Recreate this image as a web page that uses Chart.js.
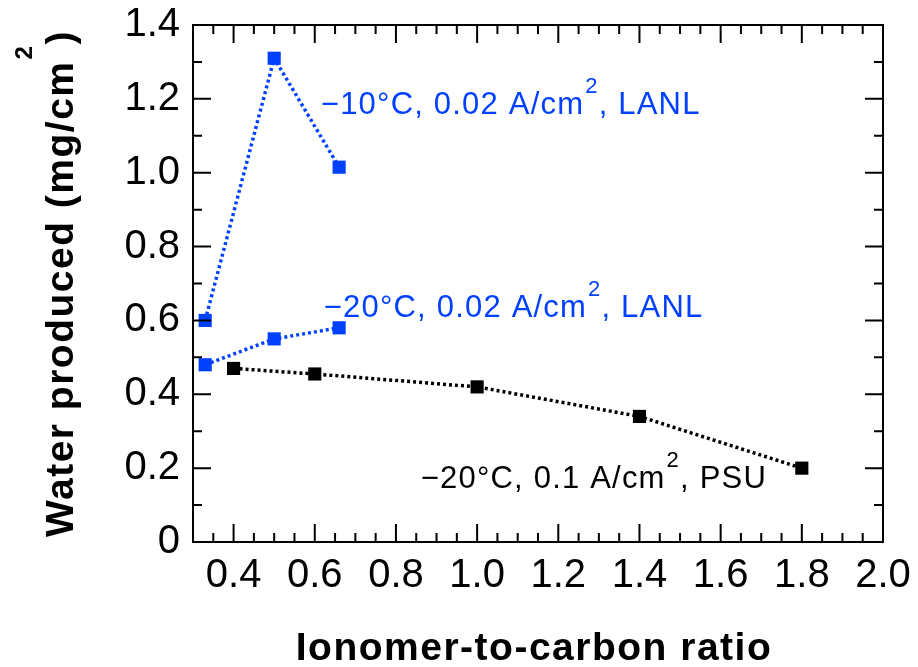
<!DOCTYPE html>
<html><head><meta charset="utf-8">
<script src="https://cdn.jsdelivr.net/npm/chart.js@4.4.0/dist/chart.umd.min.js"></script>
<style>html,body{margin:0;padding:0;background:#fff;} #wrap{width:918px;height:667px;position:relative;}</style>
</head><body><div id="wrap"><canvas id="c" width="918" height="667"></canvas></div>
<script>
// ---- data ----
const ratioLANL10 = [0.33, 0.50, 0.66];
const waterLANL10 = [0.60, 1.31, 1.015];
const ratioLANL20 = [0.33, 0.50, 0.66];
const waterLANL20 = [0.48, 0.55, 0.58];
const ratioPSU = [0.40, 0.60, 1.00, 1.40, 1.80];
const waterPSU = [0.47, 0.455, 0.42, 0.34, 0.20];

const xTickLabels = [0.4, 0.6, 0.8, 1.0, 1.2, 1.4, 1.6, 1.8, 2.0];
const xMinorTicks = [0.35,0.45,0.5,0.55,0.65,0.7,0.75,0.85,0.9,0.95,1.05,1.1,1.15,1.25,1.3,1.35,1.45,1.5,1.55,1.65,1.7,1.75,1.85,1.9,1.95];
const yTickLabels = [0, 0.2, 0.4, 0.6, 0.8, 1.0, 1.2, 1.4];
const yMinorTicks = [0.1, 0.3, 0.5, 0.7, 0.9, 1.1, 1.3];

const labelLANL10 = ['\u221210\u00b0C, 0.02 A/cm', '2', ', LANL'];
const labelLANL20 = ['\u221220\u00b0C, 0.02 A/cm', '2', ', LANL'];
const labelPSU = ['\u221220\u00b0C, 0.1 A/cm', '2', ', PSU'];
const xTitle = 'Ionomer-to-carbon ratio';
const yTitle = ['Water produced (mg/cm', '2', ')'];

const BLUE = '#0040ff';
const FONT = '"Liberation Sans", Arial, Helvetica, sans-serif';

const annotations = [
  {x: 0.615, y: 1.159, parts: labelLANL10, color: BLUE},
  {x: 0.622, y: 0.609, parts: labelLANL20, color: BLUE},
  {x: 0.861, y: 0.146, parts: labelPSU, color: '#000'}
];

function pts(xs, ys) { return xs.map((x, i) => ({x: x, y: ys[i]})); }

function drawSuperText(ctx, parts, x, y, size, supSize, rise, weight, spacing) {
  ctx.textAlign = 'left';
  ctx.textBaseline = 'alphabetic';
  ctx.letterSpacing = spacing + 'px';
  ctx.font = weight + ' ' + size + 'px ' + FONT;
  ctx.fillText(parts[0], x, y);
  let cx = x + ctx.measureText(parts[0]).width;
  ctx.font = weight + ' ' + supSize + 'px ' + FONT;
  ctx.fillText(parts[1], cx + 1, y - rise);
  cx += ctx.measureText(parts[1]).width + 1;
  ctx.font = weight + ' ' + size + 'px ' + FONT;
  ctx.fillText(parts[2], cx, y);
  ctx.letterSpacing = '0px';
}
function superWidth(ctx, parts, size, supSize, weight, spacing) {
  ctx.letterSpacing = spacing + 'px';
  ctx.font = weight + ' ' + size + 'px ' + FONT;
  let w = ctx.measureText(parts[0]).width + ctx.measureText(parts[2]).width;
  ctx.font = weight + ' ' + supSize + 'px ' + FONT;
  w += ctx.measureText(parts[1]).width + 1;
  ctx.letterSpacing = '0px';
  return w;
}

const decor = {
  id: 'decor',
  afterDraw(chart) {
    const ctx = chart.ctx;
    const a = chart.chartArea;
    const xs = chart.scales.x, ys = chart.scales.y;
    ctx.save();
    ctx.strokeStyle = '#000';
    ctx.lineWidth = 2;
    ctx.strokeRect(a.left, a.top, a.right - a.left, a.bottom - a.top);
    ctx.beginPath();
    const tick = (vals, len) => {
      vals.forEach(v => {
        const px = xs.getPixelForValue(v);
        ctx.moveTo(px, a.bottom); ctx.lineTo(px, a.bottom - len);
        ctx.moveTo(px, a.top); ctx.lineTo(px, a.top + len);
      });
    };
    const ytick = (vals, len) => {
      vals.forEach(v => {
        const py = ys.getPixelForValue(v);
        ctx.moveTo(a.left, py); ctx.lineTo(a.left + len, py);
        ctx.moveTo(a.right, py); ctx.lineTo(a.right - len, py);
      });
    };
    tick(xTickLabels, 18); tick(xMinorTicks, 9);
    ytick(yTickLabels, 18); ytick(yMinorTicks, 9);
    ctx.stroke();

    // annotations
    annotations.forEach(an => {
      ctx.fillStyle = an.color;
      drawSuperText(ctx, an.parts, xs.getPixelForValue(an.x), ys.getPixelForValue(an.y), 31, 22, 21, 'normal', 1.2);
    });

    // x title
    ctx.fillStyle = '#000';
    ctx.font = 'bold 39px ' + FONT;
    ctx.letterSpacing = '1.5px';
    ctx.textAlign = 'center';
    ctx.textBaseline = 'alphabetic';
    ctx.fillText(xTitle, (a.left + a.right) / 2 - 4, 660);
    ctx.letterSpacing = '0px';

    // y title
    ctx.save();
    ctx.translate(73, (a.top + a.bottom) / 2);
    ctx.rotate(-Math.PI / 2);
    const w = superWidth(ctx, yTitle, 39, 24, 'bold', 1.5);
    drawSuperText(ctx, yTitle, -w / 2, 0, 39, 24, 41, 'bold', 1.5);
    ctx.restore();
    ctx.restore();
  }
};

const common = {showLine: true, borderWidth: 3.5, borderDash: [3, 3], pointStyle: 'rect', pointRadius: 9.3, pointHoverRadius: 9.3, pointBorderWidth: 0, fill: false, tension: 0};

new Chart(document.getElementById('c'), {
  type: 'scatter',
  data: {
    datasets: [
      Object.assign({label: labelLANL10.join(''), data: pts(ratioLANL10, waterLANL10), borderColor: BLUE, backgroundColor: BLUE}, common),
      Object.assign({label: labelLANL20.join(''), data: pts(ratioLANL20, waterLANL20), borderColor: BLUE, backgroundColor: BLUE}, common),
      Object.assign({label: labelPSU.join(''), data: pts(ratioPSU, waterPSU), borderColor: '#000', backgroundColor: '#000'}, common)
    ]
  },
  options: {
    responsive: false,
    animation: false,
    devicePixelRatio: 1,
    layout: {padding: {top: 25, right: 35, left: 0, bottom: 0}},
    plugins: {legend: {display: false}, tooltip: {enabled: false}},
    scales: {
      x: {
        type: 'linear', min: 0.3, max: 2.0,
        grid: {display: false, drawTicks: false},
        border: {display: false},
        afterBuildTicks: s => { s.ticks = xTickLabels.map(v => ({value: v})); },
        afterFit: s => { s.height = 125; s.paddingLeft = 0; s.paddingRight = 0; },
        ticks: {color: '#000', padding: 10, maxRotation: 0, autoSkip: false,
          font: {family: FONT, size: 40, lineHeight: 1.2},
          callback: v => Number(v).toFixed(1)}
      },
      y: {
        type: 'linear', min: 0, max: 1.4,
        grid: {display: false, drawTicks: false},
        border: {display: false},
        afterBuildTicks: s => { s.ticks = yTickLabels.map(v => ({value: v})); },
        afterFit: s => { s.width = 193; s.paddingTop = 0; s.paddingBottom = 0; },
        ticks: {color: '#000', padding: 13, autoSkip: false,
          font: {family: FONT, size: 40, lineHeight: 1.2},
          callback: v => (v === 0 ? '0' : Number(v).toFixed(1))}
      }
    }
  },
  plugins: [decor]
});
</script></body></html>
